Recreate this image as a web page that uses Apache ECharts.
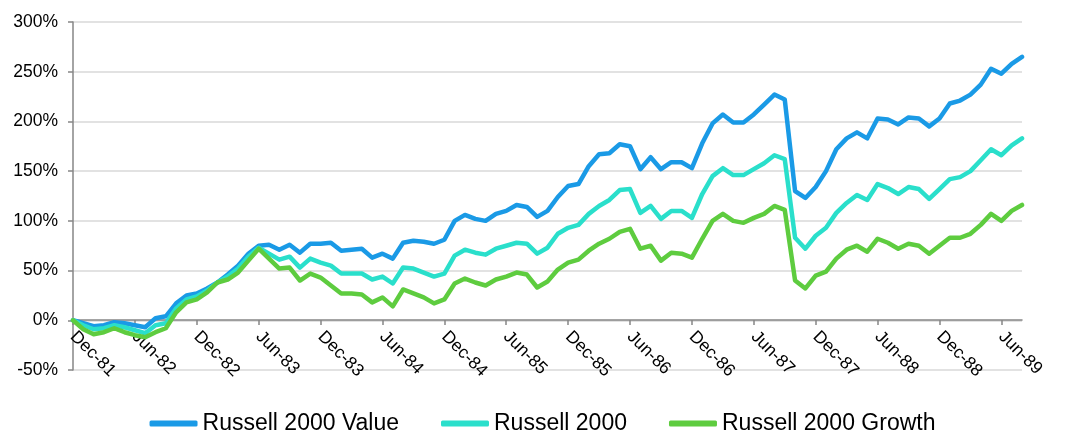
<!DOCTYPE html>
<html>
<head>
<meta charset="utf-8">
<script src="https://cdn.jsdelivr.net/npm/echarts@6/dist/echarts.min.js"></script>
<style>
html,body{margin:0;padding:0;background:#fff;}
#chart{width:1085px;height:448px;}
</style>
</head>
<body>
<div id="chart"></div>
<script>
const months = [
 'Dec-81',
 'Jan-82','Feb-82','Mar-82','Apr-82','May-82','Jun-82','Jul-82','Aug-82','Sep-82','Oct-82','Nov-82','Dec-82',
 'Jan-83','Feb-83','Mar-83','Apr-83','May-83','Jun-83','Jul-83','Aug-83','Sep-83','Oct-83','Nov-83','Dec-83',
 'Jan-84','Feb-84','Mar-84','Apr-84','May-84','Jun-84','Jul-84','Aug-84','Sep-84','Oct-84','Nov-84','Dec-84',
 'Jan-85','Feb-85','Mar-85','Apr-85','May-85','Jun-85','Jul-85','Aug-85','Sep-85','Oct-85','Nov-85','Dec-85',
 'Jan-86','Feb-86','Mar-86','Apr-86','May-86','Jun-86','Jul-86','Aug-86','Sep-86','Oct-86','Nov-86','Dec-86',
 'Jan-87','Feb-87','Mar-87','Apr-87','May-87','Jun-87','Jul-87','Aug-87','Sep-87','Oct-87','Nov-87','Dec-87',
 'Jan-88','Feb-88','Mar-88','Apr-88','May-88','Jun-88','Jul-88','Aug-88','Sep-88','Oct-88','Nov-88','Dec-88',
 'Jan-89','Feb-89','Mar-89','Apr-89','May-89','Jun-89','Jul-89','Aug-89'
];

const seriesNames = ['Russell 2000 Value', 'Russell 2000', 'Russell 2000 Growth'];

const valueSeries = [
 0,-3,-6,-5,-2,-3,-5,-7,2,4,17,25,27,
 32,38,46,55,67,75,76,71,76,68,77,77,
 78,70,71,72,63,67,62,78,80,79,77,81,
 100,106,102,100,107,110,116,114,104,110,124,135,
 137,155,167,168,177,175,152,164,152,159,159,153,
 178,198,207,199,199,207,217,227,222,130,123,134,
 150,172,183,189,183,203,202,197,204,203,195,203,
 218,221,227,237,253,248,258,265
];

const russell2000 = [
 0,-5,-9,-8,-5,-7,-10,-13,-5,-3,12,21,24,
 30,38,44,52,64,73,67,61,64,53,62,58,
 55,47,47,47,41,44,37,53,52,48,44,47,
 65,71,68,66,72,75,78,77,67,73,87,93,
 96,107,115,121,131,132,108,115,102,110,110,103,
 127,145,153,146,146,152,158,166,162,83,72,85,
 93,108,118,126,121,137,133,127,134,132,122,132,
 142,144,150,161,172,166,176,183
];

const growthSeries = [
 0,-9,-14,-12,-8,-12,-15,-17,-12,-8,8,18,21,
 28,38,41,48,60,72,62,52,53,40,47,43,
 35,27,27,26,18,23,14,31,27,23,17,21,
 37,42,38,35,41,44,48,46,33,39,51,58,
 61,70,77,82,89,92,72,75,60,68,67,63,
 82,100,107,100,98,103,107,115,111,40,32,45,
 49,62,71,75,69,82,78,72,77,75,67,75,
 83,83,87,96,107,100,110,116
];

const colors = ['#1A9AE6', '#2ADFCB', '#5ECC3F'];
const dataSets = [valueSeries, russell2000, growthSeries];

const chart = echarts.init(document.getElementById('chart'));
const font = 'Liberation Sans, Arial, sans-serif';

chart.setOption({
  animation: false,
  color: colors,
  grid: { left: 73, right: 63, top: 22, bottom: 78, containLabel: false },
  legend: {
    top: 407,
    left: 'center',
    icon: 'roundRect',
    itemWidth: 48,
    itemHeight: 6,
    itemGap: 42,
    textStyle: { fontFamily: font, fontSize: 23, color: '#000' },
    data: seriesNames
  },
  xAxis: {
    type: 'category',
    data: months,
    boundaryGap: false,
    position: 'bottom',
    offset: -50,
    axisLine: { onZero: false, lineStyle: { color: '#868686', width: 1.5 } },
    axisTick: { show: true, interval: 5, length: 5, lineStyle: { color: '#868686', width: 1.5 } },
    axisLabel: {
      interval: 5,
      rotate: -45,
      margin: 14,
      fontFamily: font,
      fontSize: 17.5,
      color: '#000'
    },
    splitLine: { show: false }
  },
  yAxis: {
    type: 'value',
    min: -50,
    max: 300,
    interval: 50,
    axisLine: { show: true, lineStyle: { color: '#868686', width: 1.5 } },
    axisTick: { show: true, length: 5, lineStyle: { color: '#868686', width: 1.5 } },
    axisLabel: {
      formatter: '{value}%',
      margin: 15,
      fontFamily: font,
      fontSize: 17.5,
      color: '#000'
    },
    splitLine: { show: true, lineStyle: { color: '#D9D9D9', width: 1.5 } }
  },
  series: seriesNames.map((name, k) => ({
    name: name,
    type: 'line',
    data: dataSets[k],
    symbol: 'none',
    smooth: false,
    lineStyle: { width: 4.5, color: colors[k], join: 'round', cap: 'round' },
    itemStyle: { color: colors[k] }
  }))
});
</script>
</body>
</html>
